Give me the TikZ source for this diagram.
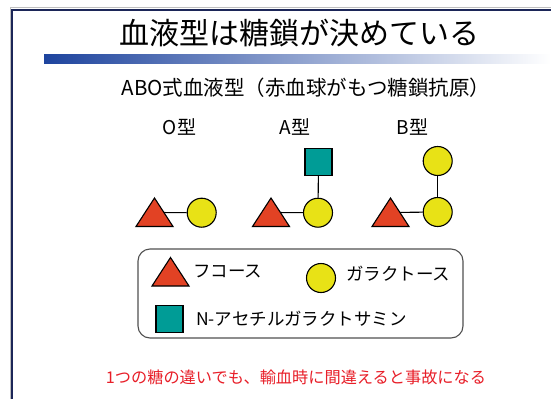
\documentclass[tikz,border=0pt]{standalone}
\usepackage{fontspec}
\setmainfont{Noto Sans CJK JP}
\usetikzlibrary{calc}
\definecolor{navy}{RGB}{28,38,88}
\definecolor{barblue}{RGB}{30,68,158}
\definecolor{fucred}{RGB}{226,66,36}
\definecolor{galyel}{RGB}{232,226,22}
\definecolor{galteal}{RGB}{0,156,150}
\definecolor{msgred}{RGB}{232,30,40}
\definecolor{boxgray}{RGB}{80,80,80}
\tikzset{
  sugarline/.style={line width=1.1pt, black},
  galnode/.style={circle, draw=black, line width=1.1pt, fill=galyel, minimum size=29pt, inner sep=0pt},
  nacnode/.style={rectangle, draw=black, line width=1.1pt, fill=galteal, minimum size=27pt, inner sep=0pt},
  fucpath/.style={draw=black, line width=1.1pt, fill=fucred, line join=miter},
  typelabel/.style={font=\fontsize{19}{22}\selectfont, inner sep=0pt},
  legendtext/.style={font=\fontsize{17.5}{20}\selectfont, anchor=west, inner sep=0pt},
}
\newcommand{\fucose}[1]{%
  \draw[fucpath] ($(#1)+(-18.5,14)$) -- ($(#1)+(18.5,14)$) -- ($(#1)+(0,-14.5)$) -- cycle;}
\begin{document}
\begin{tikzpicture}[x=1pt,y=-1pt]
\useasboundingbox (0,0) rectangle (551,399);
\fill[white] (0,0) rectangle (551,399);
% frame
\draw[line width=1pt, gray!50] (10.2,399) -- (10.2,7.8) -- (551,7.8);
\draw[line width=2pt, navy] (12,399) -- (12,9.5) -- (551,9.5);
% gradient bar
\shade[left color=barblue, right color=white] (44,54) rectangle (551,63);
% title
\node[font=\fontsize{30}{36}\selectfont, inner sep=0pt] (title) at (299,33) {血液型は糖鎖が決めている};
\node[font=\fontsize{20.5}{24}\selectfont, inner sep=0pt] (subtitle) at (306,88) {ABO式血液型（赤血球がもつ糖鎖抗原）};
% type labels
\node[typelabel] (lO) at (179.5,127) {O型};
\node[typelabel] (lA) at (295,127) {A型};
\node[typelabel] (lB) at (412.5,127) {B型};
% O type
\coordinate (fO) at (154.5,212.5);
\node[galnode] (gO) at (201.7,212.7) {};
\draw[sugarline] (fO) -- (gO);
\fucose{fO}
% A type
\coordinate (fA) at (271,212.5);
\node[galnode] (gA) at (318,212.7) {};
\node[nacnode] (nA) at (318.5,162) {};
\draw[sugarline] (fA) -- (gA);
\draw[sugarline] (nA) -- (gA);
\fucose{fA}
% B type
\coordinate (fB) at (390.5,212.5);
\node[galnode] (gB) at (437.7,212) {};
\node[galnode] (gB2) at (437.7,161) {};
\draw[sugarline] (fB) -- (gB);
\draw[sugarline] (gB2) -- (gB);
\fucose{fB}
% legend
\draw[boxgray, line width=1.1pt, rounded corners=12pt] (138,249) rectangle (463,338);
\coordinate (fL) at (170.5,272);
\fucose{fL}
\node[legendtext] (tF) at (193,272) {フコース};
\node[galnode] (gL) at (321,278) {};
\node[legendtext] (tG) at (346,274) {ガラクトース};
\node[nacnode] (nL) at (169.5,319) {};
\node[legendtext] (tN) at (196,318.5) {N-アセチルガラクトサミン};
% message
\node[font=\fontsize{16.2}{20}\selectfont, text=msgred, inner sep=0pt] (msg) at (296,377) {1つの糖の違いでも、輸血時に間違えると事故になる};
\end{tikzpicture}
\end{document}
